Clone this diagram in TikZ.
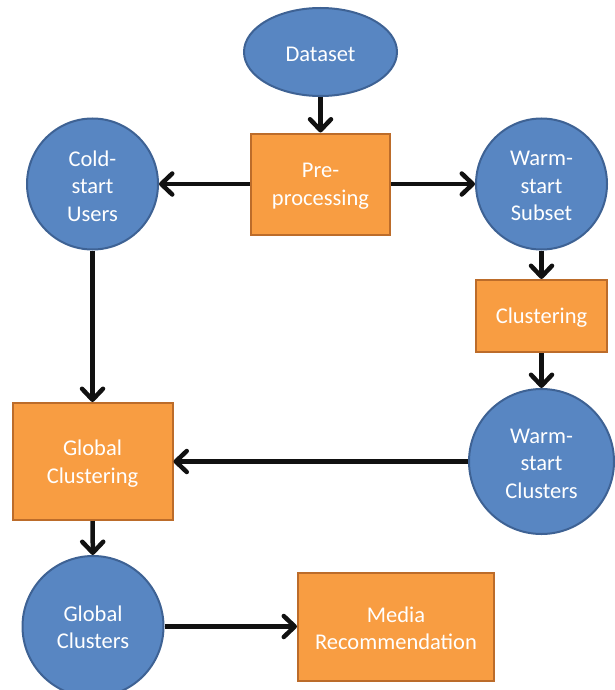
\documentclass[tikz,border=0pt]{standalone}
\usepackage{fontspec}
\setmainfont{Carlito}
\usetikzlibrary{arrows.meta,shapes.geometric}
\definecolor{bfill}{RGB}{88,134,194}
\definecolor{bline}{RGB}{62,98,148}
\definecolor{ofill}{RGB}{248,157,66}
\definecolor{oline}{RGB}{188,108,42}
\definecolor{arr}{RGB}{17,17,17}
\tikzset{
  lbl/.style={text=white, align=center, inner sep=0pt, yshift=-2pt,
    font=\fontsize{22.5}{27.5}\selectfont},
  base/.style={inner sep=0pt, line width=2pt},
  blob/.style={base, circle, draw=bline, fill=bfill},
  oval/.style={base, ellipse, draw=bline, fill=bfill},
  box/.style={base, rectangle, draw=oline, fill=ofill},
  link/.style={draw=arr, line width=4.5pt,
    -{Straight Barb[length=11pt,width=21pt,line cap=round,line join=round]}}
}
\begin{document}
\begin{tikzpicture}[x=1pt,y=-1pt]
\useasboundingbox (0,0) rectangle (614,690);
\node[oval, minimum width=153pt, minimum height=88pt, label={[lbl]center:Dataset}] (data) at (320.5,52) {};
\node[box, minimum width=139pt, minimum height=101pt, label={[lbl]center:{Pre-\\processing}}] (pre) at (320.5,184) {};
\node[blob, minimum size=131pt, label={[lbl]center:{Cold-\\start\\Users}}] (cold) at (92.5,184) {};
\node[blob, minimum size=131pt, label={[lbl]center:{Warm-\\start\\Subset}}] (wsub) at (541.5,184) {};
\node[box, minimum width=131pt, minimum height=72pt, label={[lbl]center:Clustering}] (clu) at (541.5,316) {};
\node[blob, minimum size=145pt, label={[lbl]center:{Warm-\\start\\Clusters}}] (wclu) at (541.5,461.5) {};
\node[box, minimum width=160pt, minimum height=117pt, label={[lbl]center:{Global\\Clustering}}] (gclu) at (92.5,461.5) {};
\node[blob, minimum size=141pt, label={[lbl, yshift=1pt]center:{Global\\Clusters}}] (gcl) at (93,626.5) {};
\node[box, minimum width=196pt, minimum height=108pt, label={[lbl]center:{Media\\Recommendation}}] (media) at (396,626.5) {};
\draw[link] (data) -- (pre);
\draw[link] (pre) -- (cold);
\draw[link] (pre) -- (wsub);
\draw[link] (wsub) -- (clu);
\draw[link] (clu) -- (wclu);
\draw[link] (cold) -- (gclu);
\draw[link] (wclu) -- (gclu);
\draw[link] (gclu) -- (gcl);
\draw[link] (gcl) -- (media);
\end{tikzpicture}
\end{document}
